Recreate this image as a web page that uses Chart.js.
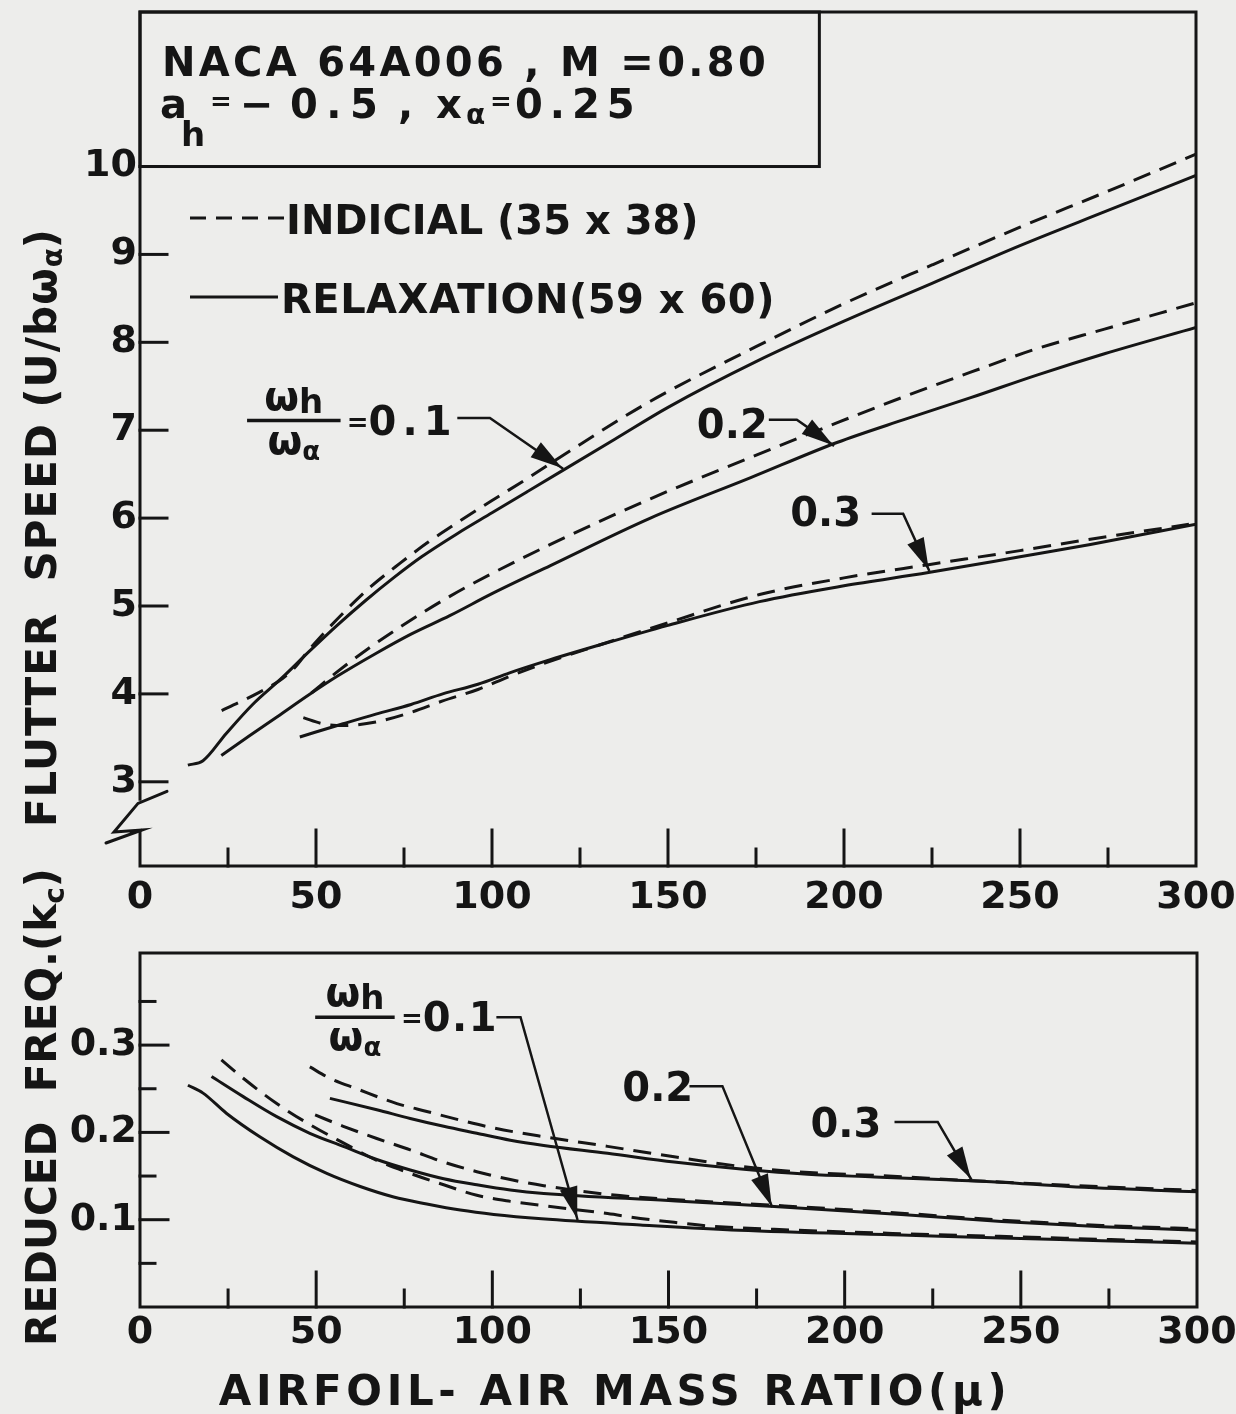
<!DOCTYPE html>
<html>
<head>
<meta charset="utf-8">
<script src="https://cdn.jsdelivr.net/npm/chart.js@4.4.1/dist/chart.umd.min.js"></script>
<style>
  html, body { margin: 0; padding: 0; background: #ededeb; }
  #wrap { position: relative; width: 1236px; height: 1414px; overflow: hidden; }
  canvas { position: absolute; left: 0; }
  #speedChart { top: 0; }
  #freqChart { top: 840px; }
</style>
</head>
<body>
<div id="wrap">
  <canvas id="speedChart" width="1236" height="930"></canvas>
  <canvas id="freqChart" width="1236" height="574"></canvas>
</div>
<script>
// ---- axis ticks ----
const muTicks = [0, 50, 100, 150, 200, 250, 300];
const muMinorTicks = [25, 75, 125, 175, 225, 275];
const speedTicks = [3, 4, 5, 6, 7, 8, 9, 10];
const freqTicks = [0.1, 0.2, 0.3];
const freqMinorTicks = [0.05, 0.15, 0.25, 0.35];

// ---- flutter speed U/(b*omega_alpha) vs mass ratio mu ----
// omega_h/omega_alpha = 0.1
const muRelax01 = [13.6, 17.9, 24.5, 32, 40, 48, 56, 64, 72, 80, 90, 100, 110, 120, 135, 150, 175, 200, 225, 250, 275, 300];
const speedRelax01 = [3.19, 3.24, 3.55, 3.88, 4.17, 4.48, 4.78, 5.06, 5.32, 5.56, 5.82, 6.06, 6.30, 6.54, 6.90, 7.26, 7.78, 8.24, 8.67, 9.10, 9.50, 9.90];
const muIndicial01 = [23.2, 28, 34, 40, 44, 48, 56, 65, 74, 82, 91, 100, 110, 120, 145, 175, 200, 225, 250, 275, 300];
const speedIndicial01 = [3.81, 3.90, 4.02, 4.16, 4.30, 4.50, 4.85, 5.20, 5.49, 5.73, 5.97, 6.20, 6.45, 6.71, 7.33, 7.95, 8.44, 8.88, 9.31, 9.72, 10.14];
// omega_h/omega_alpha = 0.2
const muRelax02 = [23.1, 31, 39, 48, 56, 67, 77, 88, 100, 116.6, 145, 173.5, 198, 217, 236, 255, 274, 300];
const speedRelax02 = [3.30, 3.52, 3.74, 3.99, 4.20, 4.46, 4.68, 4.89, 5.14, 5.46, 6.00, 6.46, 6.86, 7.12, 7.37, 7.63, 7.87, 8.17];
const muIndicial02 = [48.7, 56, 65, 75, 88, 100, 116.6, 145, 173.5, 199, 217, 236, 255, 274, 300];
const speedIndicial02 = [4.01, 4.25, 4.52, 4.79, 5.11, 5.37, 5.70, 6.22, 6.69, 7.10, 7.38, 7.66, 7.93, 8.15, 8.45];
// omega_h/omega_alpha = 0.3
const muRelax03 = [45.4, 57.7, 67, 77, 86, 96, 105, 115, 130, 150, 176, 200, 224, 250, 270, 300];
const speedRelax03 = [3.51, 3.66, 3.77, 3.88, 4.00, 4.11, 4.24, 4.37, 4.55, 4.78, 5.05, 5.23, 5.38, 5.56, 5.70, 5.93];
const muIndicial03 = [46.4, 52, 57.7, 67, 77, 86, 96, 105, 115, 130, 150, 176, 200, 224, 250, 270, 298];
const speedIndicial03 = [3.73, 3.66, 3.64, 3.68, 3.79, 3.92, 4.05, 4.20, 4.35, 4.55, 4.81, 5.13, 5.32, 5.47, 5.63, 5.76, 5.93];

// ---- reduced frequency k_c vs mass ratio mu ----
const muFreqRelax01 = [13.6, 17.9, 24.5, 34, 43.5, 53, 62.5, 72, 81.4, 90.9, 100.4, 114, 142, 170, 216, 244.5, 273, 300];
const freqRelax01 = [0.254, 0.245, 0.222, 0.195, 0.172, 0.153, 0.138, 0.126, 0.118, 0.111, 0.106, 0.101, 0.094, 0.088, 0.0825, 0.079, 0.076, 0.073];
const muFreqIndicial01 = [23.1, 29.3, 38.8, 48.2, 57.7, 67.2, 76.7, 86.2, 95.6, 105.1, 114.6, 132.7, 142, 151.6, 161, 180, 216, 244, 273, 300];
const freqIndicial01 = [0.283, 0.262, 0.233, 0.209, 0.188, 0.168, 0.153, 0.140, 0.128, 0.121, 0.116, 0.107, 0.1015, 0.097, 0.093, 0.089, 0.084, 0.081, 0.0775, 0.0745];
const muFreqRelax02 = [20.3, 29.3, 38.8, 48.2, 57.7, 67.2, 76.7, 86.2, 95.6, 105.1, 114.6, 150, 180, 216, 244.5, 273, 300];
const freqRelax02 = [0.264, 0.241, 0.218, 0.199, 0.184, 0.169, 0.157, 0.147, 0.140, 0.134, 0.130, 0.122, 0.115, 0.106, 0.098, 0.092, 0.088];
const muFreqIndicial02 = [49.7, 57.7, 67.2, 76.7, 86.2, 95.6, 105.1, 114.6, 132.7, 150, 180, 216, 244.5, 273, 300];
const freqIndicial02 = [0.220, 0.207, 0.193, 0.180, 0.166, 0.155, 0.146, 0.139, 0.129, 0.1235, 0.1165, 0.1075, 0.0995, 0.0935, 0.0895];
const muFreqRelax03 = [53.9, 67.2, 76.7, 86.2, 95.6, 105.1, 114.6, 132.7, 151.6, 170.6, 189.5, 208.5, 227, 244, 263.5, 300];
const freqRelax03 = [0.239, 0.226, 0.216, 0.207, 0.199, 0.191, 0.185, 0.176, 0.166, 0.158, 0.152, 0.149, 0.146, 0.143, 0.138, 0.132];
const muFreqIndicial03 = [48.2, 53.9, 61.5, 72.9, 81.4, 90.9, 100.4, 114.6, 132.7, 151.6, 170.6, 190, 210, 235, 263, 300];
const freqIndicial03 = [0.275, 0.262, 0.250, 0.233, 0.224, 0.214, 0.205, 0.195, 0.184, 0.172, 0.161, 0.154, 0.1505, 0.145, 0.1395, 0.1335];

// ---- styling ----
const FONT = '"DejaVu Sans", "Liberation Sans", sans-serif';
const INK = '#151515';
const DASH = [18, 10];

function series(label, mu, vals, dashed) {
  return {
    label,
    data: mu.map((m, i) => ({ x: m, y: vals[i] })),
    borderColor: INK,
    borderWidth: 3,
    borderDash: dashed ? DASH : [],
    borderCapStyle: 'butt',
    pointRadius: 0,
    fill: false,
    tension: 0.4,
    cubicInterpolationMode: 'monotone'
  };
}

function font(size) { return `bold ${size}px ${FONT}`; }

// draw a run of text pieces: [text, size, dy, letterSpacing]
function rich(ctx, parts, x, y, align) {
  let w = 0;
  const widths = parts.map(p => {
    ctx.font = font(p[1]);
    ctx.letterSpacing = (p[3] || 0) + 'px';
    const pw = ctx.measureText(p[0]).width;
    w += pw;
    return pw;
  });
  let cx = align === 'center' ? x - w / 2 : (align === 'right' ? x - w : x);
  ctx.textAlign = 'left';
  ctx.textBaseline = 'alphabetic';
  parts.forEach((p, i) => {
    ctx.font = font(p[1]);
    ctx.letterSpacing = (p[3] || 0) + 'px';
    ctx.fillText(p[0], cx, y + (p[2] || 0));
    cx += widths[i];
  });
  ctx.letterSpacing = '0px';
  return w;
}

function seg(ctx, x1, y1, x2, y2) {
  ctx.beginPath(); ctx.moveTo(x1, y1); ctx.lineTo(x2, y2); ctx.stroke();
}

// leader line ending in a filled arrow head
function leader(ctx, pts) {
  ctx.save();
  ctx.lineWidth = 2.5;
  ctx.beginPath();
  ctx.moveTo(pts[0][0], pts[0][1]);
  for (let i = 1; i < pts.length; i++) ctx.lineTo(pts[i][0], pts[i][1]);
  ctx.stroke();
  const [tx, ty] = pts[pts.length - 1];
  const [px, py] = pts[pts.length - 2];
  const ang = Math.atan2(ty - py, tx - px);
  const L = 32, W = 9;
  ctx.beginPath();
  ctx.moveTo(tx, ty);
  ctx.lineTo(tx - L * Math.cos(ang) + W * Math.sin(ang), ty - L * Math.sin(ang) - W * Math.cos(ang));
  ctx.lineTo(tx - L * Math.cos(ang) - W * Math.sin(ang), ty - L * Math.sin(ang) + W * Math.cos(ang));
  ctx.closePath();
  ctx.fill();
  ctx.restore();
}

// omega_h / omega_alpha fraction label followed by "=0.1"
function ratioLabel(ctx, cx, cy, barW, spacing) {
  ctx.save();
  ctx.lineWidth = 3.5;
  seg(ctx, cx - barW / 2, cy, cx + barW / 2, cy);
  rich(ctx, [['ω', 40], ['h', 34, 3]], cx, cy - 11, 'center');
  rich(ctx, [['ω', 40], ['α', 26, 6]], cx, cy + 33, 'center');
  rich(ctx, [['=', 26, -4], ['0.1', 40, 0, spacing]], cx + barW / 2 + 8, cy + 14, 'left');
  ctx.restore();
}

function xScale(height, pad) {
  return {
    type: 'linear', min: 0, max: 300,
    afterBuildTicks: s => { s.ticks = muTicks.map(v => ({ value: v })); },
    afterFit: s => { s.height = height; s.paddingLeft = 0; s.paddingRight = 0; },
    grid: { display: false, drawTicks: false },
    border: { display: false },
    ticks: { font: { family: FONT, size: 38, weight: 'bold' }, color: INK, padding: pad, autoSkip: false, maxRotation: 0 }
  };
}

function yScale(min, max, ticks) {
  return {
    type: 'linear', min, max,
    afterBuildTicks: s => { s.ticks = ticks.map(v => ({ value: v })); },
    afterFit: s => { s.width = 140; s.paddingTop = 0; s.paddingBottom = 0; },
    grid: { display: false, drawTicks: false },
    border: { display: false },
    ticks: { font: { family: FONT, size: 38, weight: 'bold' }, color: INK, padding: 3, autoSkip: false,
             callback: v => String(v) }
  };
}

const baseOptions = {
  responsive: false, animation: false, devicePixelRatio: 1,
  plugins: { legend: { display: false }, tooltip: { enabled: false }, title: { display: false } }
};

// ---------- flutter speed panel ----------
const speedDecor = {
  id: 'speedDecor',
  afterDraw(chart) {
    const { ctx, chartArea: a, scales: { x, y } } = chart;
    ctx.save();
    ctx.strokeStyle = INK; ctx.fillStyle = INK; ctx.lineWidth = 3; ctx.lineCap = 'square';

    // frame with a break in the speed axis below 3
    const brkTop = y.getPixelForValue(2.8), brkBot = y.getPixelForValue(2.44);
    ctx.beginPath();
    ctx.moveTo(a.left, brkTop); ctx.lineTo(a.left, a.top); ctx.lineTo(a.right, a.top);
    ctx.lineTo(a.right, a.bottom); ctx.lineTo(a.left, a.bottom); ctx.lineTo(a.left, brkBot);
    ctx.stroke();
    ctx.lineCap = 'round';
    ctx.beginPath();
    ctx.moveTo(a.left + 27, brkTop - 8);
    ctx.lineTo(a.left - 2, brkTop + 4);
    ctx.lineTo(a.left - 26, brkBot + 1);
    ctx.lineTo(a.left + 2, brkBot - 1);
    ctx.lineTo(a.left - 34, brkBot + 12);
    ctx.stroke();
    ctx.lineCap = 'square';

    // inward tick marks
    speedTicks.forEach(v => { const py = y.getPixelForValue(v); seg(ctx, a.left, py, a.left + 27, py); });
    muTicks.slice(1, -1).forEach(v => { const px = x.getPixelForValue(v); seg(ctx, px, a.bottom, px, a.bottom - 36); });
    muMinorTicks.forEach(v => { const px = x.getPixelForValue(v); seg(ctx, px, a.bottom, px, a.bottom - 17); });

    // case box
    const bx = x.getPixelForValue(193), by = y.getPixelForValue(10);
    ctx.strokeRect(a.left, a.top, bx - a.left, by - a.top);
    const L = a.left;
    rich(ctx, [['NACA 64A006 , M =0.80', 40, 0, 3.3]], L + 22, 76, 'left');
    rich(ctx, [['a', 40]], L + 20, 118, 'left');
    rich(ctx, [['h', 34]], L + 41, 146, 'left');
    rich(ctx, [['=', 26]], L + 70, 110, 'left');
    rich(ctx, [['−', 40]], L + 100, 118, 'left');
    rich(ctx, [['0.5', 40, 0, 8.5]], L + 150, 118, 'left');
    rich(ctx, [[',', 40]], L + 258, 118, 'left');
    rich(ctx, [['x', 40]], L + 296, 118, 'left');
    rich(ctx, [['α', 28]], L + 326, 124, 'left');
    rich(ctx, [['=', 26]], L + 350, 110, 'left');
    rich(ctx, [['0.25', 40, 0, 7]], L + 375, 118, 'left');

    // method key
    ctx.save();
    ctx.setLineDash([16, 10]); ctx.lineCap = 'butt';
    seg(ctx, L + 50, 218, L + 144, 218);
    ctx.setLineDash([]);
    seg(ctx, L + 50, 297, L + 138, 297);
    ctx.restore();
    rich(ctx, [['INDICIAL', 40], [' (35 x 38)', 40]], L + 146, 234, 'left');
    rich(ctx, [['RELAXATION(59 x 60)', 40, 0, 0.5]], L + 141, 313, 'left');

    // curve labels
    const P = (m, v) => [x.getPixelForValue(m), y.getPixelForValue(v)];
    const f = P(43.7, 7.11);
    ratioLabel(ctx, f[0], f[1], 90, 6);
    leader(ctx, [P(90.5, 7.14), P(99.4, 7.14), P(119.9, 6.57)]);
    const t2 = P(158.2, 7.08);
    rich(ctx, [['0.2', 40]], t2[0], t2[1] + 15, 'left');
    leader(ctx, [P(179, 7.12), P(186.6, 7.12), P(196.9, 6.83)]);
    const t3 = P(184.7, 6.08);
    rich(ctx, [['0.3', 40]], t3[0], t3[1] + 15, 'left');
    leader(ctx, [P(208.2, 6.05), P(216.8, 6.05), P(224.1, 5.41)]);

    // axis title
    ctx.save();
    ctx.translate(56, 528);
    ctx.rotate(-Math.PI / 2);
    rich(ctx, [['FLUTTER  SPEED (U/bω', 42, 0, 1], ['α', 28, 6], [')', 42]], 0, 0, 'center');
    ctx.restore();
    ctx.restore();
  }
};

new Chart(document.getElementById('speedChart'), {
  type: 'line',
  data: {
    datasets: [
      series('Relaxation 0.1', muRelax01, speedRelax01, false),
      series('Indicial 0.1', muIndicial01, speedIndicial01, true),
      series('Relaxation 0.2', muRelax02, speedRelax02, false),
      series('Indicial 0.2', muIndicial02, speedIndicial02, true),
      series('Relaxation 0.3', muRelax03, speedRelax03, false),
      series('Indicial 0.3', muIndicial03, speedIndicial03, true)
    ]
  },
  options: Object.assign({}, baseOptions, {
    layout: { padding: { top: 12, right: 40, left: 0, bottom: 0 } },
    scales: { x: xScale(64, 9), y: yScale(2.042, 11.758, speedTicks) }
  }),
  plugins: [speedDecor]
});

// ---------- reduced frequency panel ----------
const freqDecor = {
  id: 'freqDecor',
  afterDraw(chart) {
    const { ctx, chartArea: a, scales: { x, y } } = chart;
    ctx.save();
    ctx.strokeStyle = INK; ctx.fillStyle = INK; ctx.lineWidth = 3; ctx.lineCap = 'square';
    ctx.strokeRect(a.left, a.top, a.right - a.left, a.bottom - a.top);

    freqTicks.forEach(v => { const py = y.getPixelForValue(v); seg(ctx, a.left, py, a.left + 28, py); });
    freqMinorTicks.forEach(v => { const py = y.getPixelForValue(v); seg(ctx, a.left, py, a.left + 15, py); });
    muTicks.slice(1, -1).forEach(v => { const px = x.getPixelForValue(v); seg(ctx, px, a.bottom, px, a.bottom - 35); });
    muMinorTicks.forEach(v => { const px = x.getPixelForValue(v); seg(ctx, px, a.bottom, px, a.bottom - 17); });

    const P = (m, v) => [x.getPixelForValue(m), y.getPixelForValue(v)];
    const f = P(61, 0.332);
    ratioLabel(ctx, f[0], f[1], 76, 1.5);
    leader(ctx, [P(101.5, 0.332), P(108, 0.332), P(124.1, 0.101)]);
    const t2 = P(136.9, 0.253);
    rich(ctx, [['0.2', 40]], t2[0], t2[1] + 15, 'left');
    leader(ctx, [P(156.3, 0.253), P(165.3, 0.253), P(179.3, 0.1155)]);
    const t3 = P(190.3, 0.212);
    rich(ctx, [['0.3', 40]], t3[0], t3[1] + 15, 'left');
    leader(ctx, [P(214.5, 0.212), P(226.4, 0.212), P(235.8, 0.147)]);

    // axis titles
    ctx.save();
    ctx.translate(56, 267);
    ctx.rotate(-Math.PI / 2);
    rich(ctx, [['REDUCED  FREQ.(k', 42], ['c', 28, 8], [')', 42]], 0, 0, 'center');
    ctx.restore();
    rich(ctx, [['AIRFOIL- AIR MASS RATIO(μ)', 42, 0, 4.6]], 615, 565, 'center');
    ctx.restore();
  }
};

new Chart(document.getElementById('freqChart'), {
  type: 'line',
  data: {
    datasets: [
      series('Relaxation 0.1', muFreqRelax01, freqRelax01, false),
      series('Indicial 0.1', muFreqIndicial01, freqIndicial01, true),
      series('Relaxation 0.2', muFreqRelax02, freqRelax02, false),
      series('Indicial 0.2', muFreqIndicial02, freqIndicial02, true),
      series('Relaxation 0.3', muFreqRelax03, freqRelax03, false),
      series('Indicial 0.3', muFreqIndicial03, freqIndicial03, true)
    ]
  },
  options: Object.assign({}, baseOptions, {
    layout: { padding: { top: 113, right: 39, left: 0, bottom: 0 } },
    scales: { x: xScale(107, 3), y: yScale(0, 0.4055, freqTicks) }
  }),
  plugins: [freqDecor]
});
</script>
</body>
</html>
